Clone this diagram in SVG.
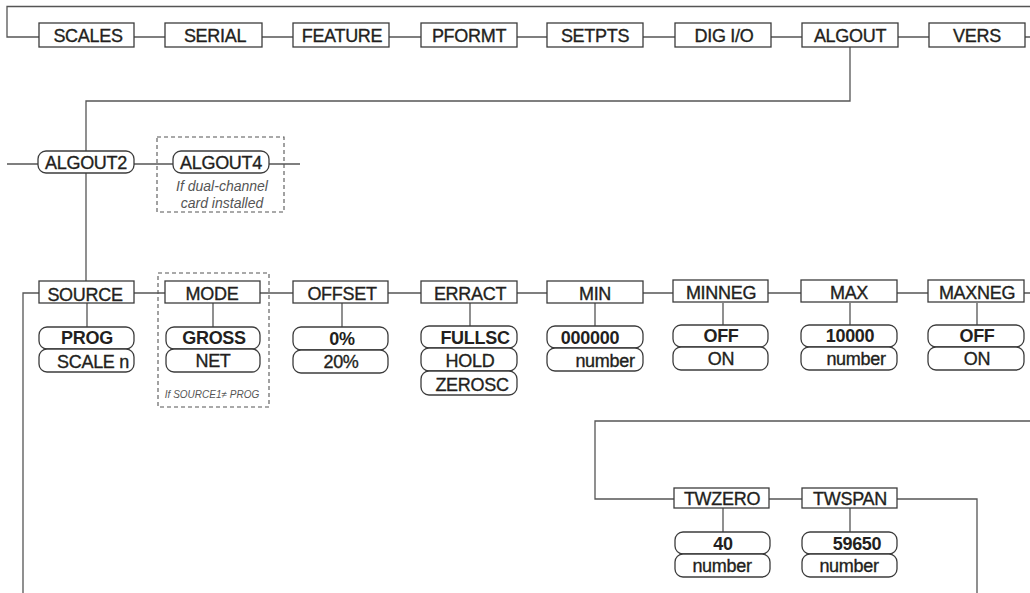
<svg xmlns="http://www.w3.org/2000/svg" width="1030" height="593" viewBox="0 0 1030 593">
<style>
.bg{fill:#fff}
.ln{fill:none;stroke:#555;stroke-width:1.3}
.bx{fill:#fff;stroke:#3c3c3c;stroke-width:1.3}
.op{fill:#fff;stroke:#3c3c3c;stroke-width:1.3}
.ds{fill:none;stroke:#555;stroke-width:1.1;stroke-dasharray:4 3}
text{font-family:"Liberation Sans",Arial,sans-serif;fill:#231f20;text-anchor:middle}
.t{font-size:18px;letter-spacing:-0.3px;stroke:#231f20;stroke-width:0.35}
.b{font-size:18px;letter-spacing:-0.3px;font-weight:bold}
.i{font-size:14px;font-style:italic;fill:#555}
.s{font-size:10px;font-style:italic;fill:#555}
</style>
<rect class="bg" x="0" y="0" width="1030" height="593"/>
<g id="connectors">
<path class="ln" d="M1030 6.5H7V37H39M134 37H165M262 37H293M389 37H421M517 37H547M643 37H675M771 37H802M898 37H929M1025 37H1030"/>
<path class="ln" d="M850 47V101H86V151M86 173V281M7 164H38M134 164H173M269 164H300"/>
<path class="ln" d="M23 593V293H39M134 293H165M260 293H293M388 293H421M517 293H547M643 293H673M768 293H801M897 293H928M1024 293H1030"/>
<path class="ln" d="M87 303V327M213 303V327M342 303V327M470 303V326M595 303V326M723 303V326M850 303V326M977 303V326"/>
<path class="ln" d="M1030 421H595V499H674M769 499H802M897 499H977V593M723 508V532M850 508V532"/>
</g>
<g id="dashed">
<rect class="ds" x="157" y="137" width="127" height="75"/>
<rect class="ds" x="158" y="273" width="111" height="134"/>
</g>
<g id="top-menu">
<g id="n-scales"><rect class="bx" x="39" y="23" width="95" height="24"/><text class="t" x="88" y="42">SCALES</text></g>
<g id="n-serial"><rect class="bx" x="165" y="23" width="97" height="24"/><text class="t" x="215" y="42">SERIAL</text></g>
<g id="n-feature"><rect class="bx" x="293" y="23" width="96" height="24"/><text class="t" x="342" y="42">FEATURE</text></g>
<g id="n-pformt"><rect class="bx" x="421" y="23" width="96" height="24"/><text class="t" x="469" y="42">PFORMT</text></g>
<g id="n-setpts"><rect class="bx" x="547" y="23" width="96" height="24"/><text class="t" x="595" y="42">SETPTS</text></g>
<g id="n-digio"><rect class="bx" x="675" y="23" width="96" height="24"/><text class="t" x="724" y="42">DIG I/O</text></g>
<g id="n-algout"><rect class="bx" x="802" y="23" width="96" height="24"/><text class="t" x="850" y="42">ALGOUT</text></g>
<g id="n-vers"><rect class="bx" x="929" y="23" width="96" height="24"/><text class="t" x="977" y="42">VERS</text></g>
</g>
<g id="n-algout2"><rect class="op" x="38" y="151" width="96" height="22" rx="8"/><text class="t" x="86" y="169">ALGOUT2</text></g>
<g id="n-algout4"><rect class="op" x="173" y="151" width="96" height="22" rx="8"/><text class="t" x="221" y="169">ALGOUT4</text>
<text class="i" x="222" y="191">If dual-channel</text><text class="i" x="222" y="208">card installed</text></g>
<g id="n-source"><rect class="bx" x="39" y="281" width="95" height="22"/><text class="t" x="85" y="301">SOURCE</text>
<rect class="op" x="39" y="327" width="95" height="22" rx="8"/><text class="b" x="87" y="344">PROG</text>
<rect class="op" x="39" y="349" width="95" height="23" rx="8"/><text class="t" x="93" y="368">SCALE n</text></g>
<g id="n-mode"><rect class="bx" x="165" y="281" width="95" height="22"/><text class="t" x="212" y="300">MODE</text>
<rect class="op" x="166" y="327" width="94" height="22" rx="8"/><text class="b" x="214" y="344">GROSS</text>
<rect class="op" x="166" y="349" width="94" height="23" rx="8"/><text class="t" x="213" y="367">NET</text>
<text class="s" x="212" y="398">If SOURCE1≠ PROG</text></g>
<g id="n-offset"><rect class="bx" x="293" y="281" width="95" height="22"/><text class="t" x="342" y="300">OFFSET</text>
<rect class="op" x="293" y="327" width="95" height="23" rx="8"/><text class="b" x="342" y="345">0%</text>
<rect class="op" x="293" y="350" width="95" height="23" rx="8"/><text class="t" x="341" y="368">20%</text></g>
<g id="n-erract"><rect class="bx" x="421" y="281" width="96" height="22"/><text class="t" x="470" y="300">ERRACT</text>
<rect class="op" x="421" y="326" width="96" height="22" rx="8"/><text class="b" x="475" y="344">FULLSC</text>
<rect class="op" x="421" y="348" width="96" height="23" rx="8"/><text class="t" x="470" y="367">HOLD</text>
<rect class="op" x="421" y="371" width="96" height="24" rx="8"/><text class="t" x="472" y="391">ZEROSC</text></g>
<g id="n-min"><rect class="bx" x="547" y="281" width="96" height="22"/><text class="t" x="595" y="300">MIN</text>
<rect class="op" x="547" y="326" width="96" height="22" rx="8"/><text class="b" x="590" y="344">000000</text>
<rect class="op" x="547" y="348" width="96" height="23" rx="8"/><text class="t" x="605" y="367">number</text></g>
<g id="n-minneg"><rect class="bx" x="673" y="280" width="95" height="22"/><text class="t" x="721" y="299">MINNEG</text>
<rect class="op" x="673" y="325" width="95" height="22" rx="8"/><text class="b" x="721" y="342">OFF</text>
<rect class="op" x="673" y="347" width="95" height="23" rx="8"/><text class="t" x="721" y="365">ON</text></g>
<g id="n-max"><rect class="bx" x="801" y="280" width="96" height="22"/><text class="t" x="849" y="299">MAX</text>
<rect class="op" x="801" y="325" width="96" height="22" rx="8"/><text class="b" x="850" y="342">10000</text>
<rect class="op" x="801" y="347" width="96" height="23" rx="8"/><text class="t" x="856" y="365">number</text></g>
<g id="n-maxneg"><rect class="bx" x="928" y="280" width="96" height="22"/><text class="t" x="977" y="299">MAXNEG</text>
<rect class="op" x="928" y="325" width="96" height="22" rx="8"/><text class="b" x="977" y="342">OFF</text>
<rect class="op" x="928" y="347" width="96" height="23" rx="8"/><text class="t" x="977" y="365">ON</text></g>
<g id="n-twzero"><rect class="bx" x="674" y="488" width="95" height="20"/><text class="t" x="722" y="505">TWZERO</text>
<rect class="op" x="675" y="532" width="95" height="22" rx="8"/><text class="b" x="723" y="550">40</text>
<rect class="op" x="675" y="554" width="95" height="23" rx="8"/><text class="t" x="722" y="572">number</text></g>
<g id="n-twspan"><rect class="bx" x="802" y="488" width="95" height="20"/><text class="t" x="850" y="505">TWSPAN</text>
<rect class="op" x="802" y="532" width="95" height="22" rx="8"/><text class="b" x="857" y="550">59650</text>
<rect class="op" x="802" y="554" width="95" height="23" rx="8"/><text class="t" x="849" y="572">number</text></g>
</svg>
